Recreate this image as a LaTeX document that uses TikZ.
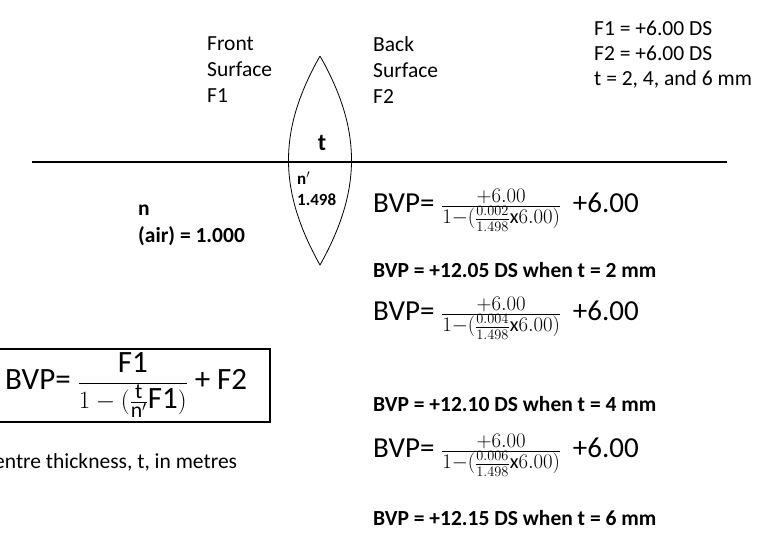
\documentclass[tikz,border=0pt]{standalone}
\usepackage{fontspec}
\setmainfont{Carlito}
\begin{document}
\begin{tikzpicture}[x=1pt,y=-1pt,
 lab/.style={anchor=west,inner sep=0pt,font=\fontsize{21.5}{26}\selectfont},
 blab/.style={anchor=west,inner sep=0pt,font=\bfseries\fontsize{21.5}{26}\selectfont},
 frm/.style={anchor=west,inner sep=0pt,font=\fontsize{29}{30}\selectfont}]
\useasboundingbox (0,0) rectangle (781,542);
\coordinate (L) at (32,162); \coordinate (R) at (727,162);
\draw[line width=1.8pt] (L) -- (R);
\coordinate (lt) at (320,56); \coordinate (lb) at (320,265);
\draw[line width=0.8pt] (lt) .. controls (278,130) and (278,190) .. (lb)
  .. controls (362,190) and (362,130) .. (lt);
\node[font=\bfseries\fontsize{24}{26}\selectfont] (t) at (322,143) {t};
\node[blab,font=\bfseries\fontsize{17}{19}\selectfont] (np) at (297,178) {n$'$};
\node[blab,font=\bfseries\fontsize{17}{19}\selectfont] (ni) at (297,200) {1.498};
\node[lab,align=left,anchor=north west,font=\fontsize{21.5}{26}\selectfont] (fs) at (207,36) {Front\\Surface\\F1};
\node[lab,align=left,anchor=north west,font=\fontsize{21.5}{26}\selectfont] (bs) at (373,36) {Back\\Surface\\F2};
\node[lab,align=left,anchor=north west,font=\fontsize{21.5}{25}\selectfont] (giv) at (594,21) {F1 = +6.00 DS\\F2 = +6.00 DS\\t = 2, 4, and 6 mm};
\node[blab] (n) at (138,210) {n};
\node[blab] (air) at (138,236) {(air) = 1.000};
\node[frm] (f1) at (373,210) {BVP= $\frac{+6.00}{1-(\frac{0.002}{1.498}\mathrm{x}6.00)}$\hspace{0.4em}+6.00};
\node[blab] (r1) at (373,270) {BVP = +12.05 DS when t = 2 mm};
\node[frm] (f2) at (373,318) {BVP= $\frac{+6.00}{1-(\frac{0.004}{1.498}\mathrm{x}6.00)}$\hspace{0.4em}+6.00};
\node[blab] (r2) at (373,404) {BVP = +12.10 DS when t = 4 mm};
\node[frm] (f3) at (373,455) {BVP= $\frac{+6.00}{1-(\frac{0.006}{1.498}\mathrm{x}6.00)}$\hspace{0.4em}+6.00};
\node[blab] (r3) at (373,518) {BVP = +12.15 DS when t = 6 mm};
\draw[line width=1.8pt] (-5,349) rectangle (270,422);
\node[frm,font=\fontsize{31}{33}\selectfont] (bf) at (5,385) {BVP= $\displaystyle\frac{\mathrm{F1}}{1-(\textstyle\frac{\mathrm{t}}{\mathrm{n}'}\mathrm{F1})}$ + F2};
\node[lab] (note) at (-6,462) {entre thickness, t, in metres};
\end{tikzpicture}
\end{document}
